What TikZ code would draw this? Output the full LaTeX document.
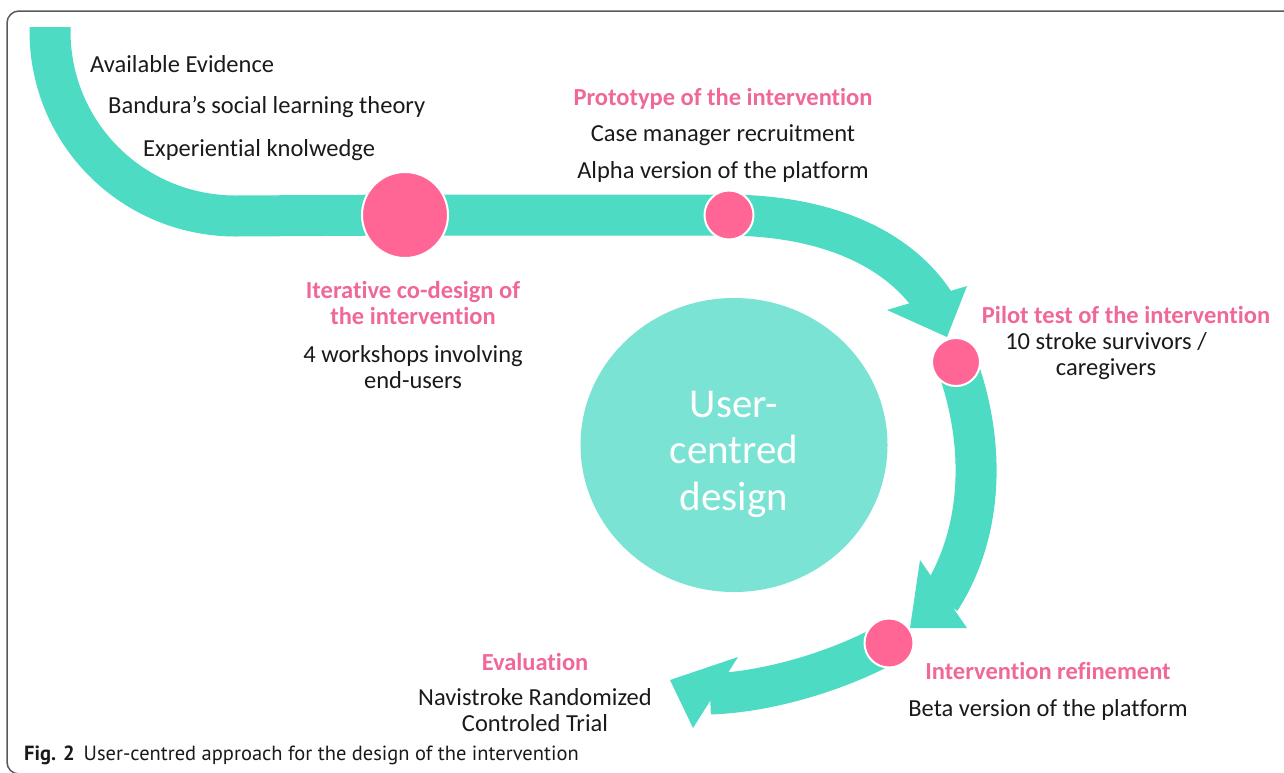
\documentclass[tikz,border=0pt]{standalone}
\usepackage{fontspec}
\setmainfont{Carlito}[RawFeature={-liga;-clig;-calt;-dlig;-rlig}]
\newfontfamily\capfont{PT Sans}
\usetikzlibrary{shapes.geometric}
\definecolor{teal1}{HTML}{4DDBC4}
\definecolor{pinkc}{HTML}{FF6695}
\definecolor{pinkt}{HTML}{F0679A}
\definecolor{lteal}{HTML}{7AE3D3}
\definecolor{ink}{HTML}{1A1A1A}
\pgfdeclarelayer{bg}
\pgfsetlayers{bg,main}
\tikzset{
 band/.style={draw=teal1, line width=41pt},
 headfill/.style={fill=teal1},
 dot/.style={circle, fill=pinkc, draw=white, line width=2pt, inner sep=0pt},
 txt/.style={font=\fontsize{24.5}{26}\selectfont, inner sep=0pt, align=center, anchor=base, text=ink},
 ptxt/.style={font=\fontsize{24.5}{26}\selectfont\bfseries, inner sep=0pt, align=center, anchor=base, text=pinkt},
 frame/.style={draw=black!65, line width=1.5pt, rounded corners=12pt},
}
\begin{document}
\begin{tikzpicture}[x=1pt,y=-1pt]
\useasboundingbox (0,0) rectangle (1284,772);
\draw[frame] (1300,774) -- (7,774) -- (7,11) -- (1300,11);

% centre
\node[ellipse, fill=lteal, minimum width=307pt, minimum height=294pt, inner sep=0pt] (ucd) at (734,445) {};
\node[font=\fontsize{41}{46.5}\selectfont, text=white, align=center, inner sep=0pt, anchor=base] (ucdt) at (734,510) {User-\\centred\\design};

% milestone dots
\node[dot, minimum size=86pt] (c1) at (405,215) {};
\node[dot, minimum size=49pt] (c2) at (729,215) {};
\node[dot, minimum size=48pt] (c3) at (956,362) {};
\node[dot, minimum size=49pt] (c4) at (889,643) {};

\coordinate (s0) at (50,27);
\coordinate (h2) at (935,304);
\coordinate (h3) at (940,600);
\coordinate (h4) at (710,694);

\begin{pgfonlayer}{bg}
\draw[band] (s0) -- (50,31) .. controls (50,134) and (133,216) .. (236,216) -- (c1.center) -- (c2.center);
\draw[band] (c2.center) .. controls (830,216) and (900,250) .. (h2);
\fill[headfill] (887,310) -- (967,286) -- (947,337) -- cycle;
\draw[band] (c3.center) .. controls (985,440) and (985,530) .. (h3);
\fill[headfill] (920,560) -- (967,628) -- (910,628) -- cycle;
\draw[band] (c4.center) .. controls (840,670) and (770,692) .. (h4);
\fill[headfill] (738,657) -- (670,680) -- (693,728) -- cycle;
\end{pgfonlayer}

% texts
\node[txt, anchor=base west] (t1) at (90,72) {Available Evidence};
\node[txt, anchor=base west] (t2) at (108,113) {Bandura’s social learning theory};
\node[txt, anchor=base west] (t3) at (143,156) {Experiential knolwedge};

\node[ptxt] (p1) at (723,105) {Prototype of the intervention};
\node[txt] (p1a) at (723,141) {Case manager recruitment};
\node[txt] (p1b) at (723,178) {Alpha version of the platform};

\node[ptxt] (p0) at (413,324) {Iterative co-design of\\the intervention};
\node[txt] (p0a) at (413,388) {4 workshops involving\\end-users};

\node[ptxt] (p2) at (1126,323) {Pilot test of the intervention};
\node[txt] (p2a) at (1106,375) {10 stroke survivors /\\caregivers};

\node[ptxt] (p3) at (1048,679) {Intervention refinement};
\node[txt] (p3a) at (1048,716) {Beta version of the platform};

\node[ptxt] (p4) at (535,670) {Evaluation};
\node[txt] (p4a) at (535,731) {Navistroke Randomized\\Controled Trial};

\node[font=\capfont\fontsize{20.5}{24}\selectfont, text=ink, inner sep=0pt, anchor=base west] (cap) at (24,760) {\textbf{Fig. 2}\hspace{9pt}User-centred approach for the design of the intervention};
\end{tikzpicture}
\end{document}
